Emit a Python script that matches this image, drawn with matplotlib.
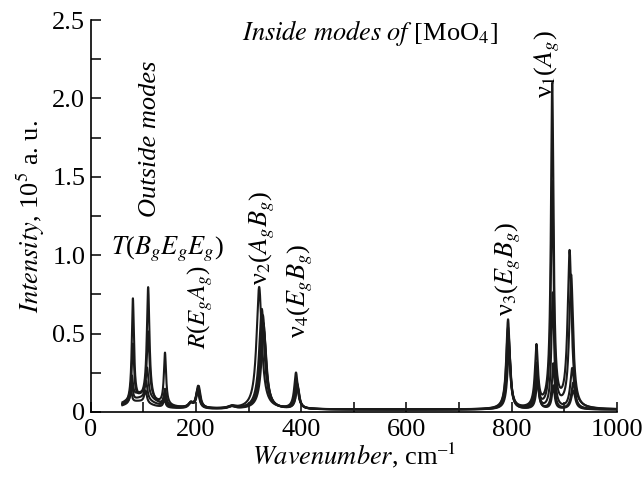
import numpy as np
import matplotlib
matplotlib.use('Agg')
import matplotlib.pyplot as plt
from matplotlib.ticker import MultipleLocator

# Raman spectra: each curve is described by the peaks
# (centre in cm-1, height in 10^5 a.u.), widths are shared half-widths

hwhm = [30, 2.5, 3.0, 2.5, 5, 4, 8, 6, 4, 4, 3.5, 3, 4.5]

center_s1 = [100, 80, 109, 141, 190, 205, 268, 320, 390, 793, 847, 877, 910]
height_s1 = [0.06, 0.66, 0.72, 0.08, 0.03, 0.14, 0.015, 0.78, 0.23, 0.57, 0.39, 2.06, 1.0]

center_s2 = [100, 80, 109, 141, 190, 204, 268, 325, 391, 793, 847, 877, 913]
height_s2 = [0.08, 0.36, 0.42, 0.33, 0.03, 0.14, 0.015, 0.64, 0.18, 0.52, 0.28, 1.44, 0.85]

center_s3 = [95, 78, 107, 141, 190, 204, 268, 327, 392, 794, 848, 878, 915]
height_s3 = [0.10, 0.14, 0.18, 0.10, 0.03, 0.13, 0.015, 0.60, 0.16, 0.47, 0.23, 0.74, 0.26]

center_s4 = [95, 78, 105, 140, 190, 203, 268, 328, 393, 794, 848, 879, 917]
height_s4 = [0.07, 0.10, 0.12, 0.06, 0.03, 0.12, 0.015, 0.55, 0.15, 0.42, 0.20, 0.29, 0.17]

center_s5 = [90, 76, 104, 140, 190, 203, 268, 329, 393, 795, 849, 879, 917]
height_s5 = [0.05, 0.08, 0.08, 0.05, 0.03, 0.11, 0.015, 0.50, 0.14, 0.38, 0.17, 0.15, 0.12]

baseline = 0.015

centers = [center_s1, center_s2, center_s3, center_s4, center_s5]
heights = [height_s1, height_s2, height_s3, height_s4, height_s5]

plt.rcParams['font.family'] = ['Liberation Serif', 'DejaVu Serif']
plt.rcParams['mathtext.fontset'] = 'stix'
fs = 19

fig = plt.figure(figsize=(6.44, 4.79), dpi=100)
ax = fig.add_axes([0.141, 0.140, 0.817, 0.818])

x = np.linspace(60, 1000, 6000)
for c, h in zip(centers, heights):
    y = np.full_like(x, baseline)
    for x0, a, g in zip(c, h, hwhm):
        y += a * g**2 / ((x - x0)**2 + g**2)
    ax.plot(x, y, color='#1a1a1a', lw=1.5)

ax.set_xlim(0, 1000)
ax.set_ylim(0, 2.5)
ax.xaxis.set_major_locator(MultipleLocator(200))
ax.xaxis.set_minor_locator(MultipleLocator(100))
ax.yaxis.set_minor_locator(MultipleLocator(0.25))
ax.set_yticks([0, 0.5, 1.0, 1.5, 2.0, 2.5])
ax.set_yticklabels(['0', '0.5', '1.0', '1.5', '2.0', '2.5'])
ax.tick_params(which='both', direction='in', length=7, width=1.1, labelsize=fs)
ax.tick_params(axis='x', pad=5)
ax.tick_params(axis='y', pad=4)
for s in ['top', 'right']:
    ax.spines[s].set_visible(False)
for s in ['left', 'bottom']:
    ax.spines[s].set_linewidth(1.2)

ax.set_xlabel('$\\mathit{Wavenumber}$, cm$^{\\mathrm{–1}}$', fontsize=fs, labelpad=0)
ax.set_ylabel('$\\mathit{Intensity}$, 10$^5$ a. u.', fontsize=fs, labelpad=4)

ax.text(531, 2.42, '$\\mathit{Inside\\ modes\\ of}$ [MoO$_4$]', ha='center', va='center', fontsize=fs)
ax.text(112, 1.74, 'Outside modes', rotation=90, ha='center', va='center',
        fontsize=fs, style='italic')
ax.text(145, 1.04, '$\\mathit{T}$($\\mathit{B_gE_gE_g}$)', ha='center', va='center', fontsize=fs)
ax.text(207, 0.40, '$\\mathit{R}$($\\mathit{E_gA_g}$)', rotation=90, ha='center', va='bottom', fontsize=18)
ax.text(326, 0.81, 'ν$_2$($\\mathit{A_gB_g}$)', rotation=90, ha='center', va='bottom', fontsize=fs)
ax.text(398, 0.47, 'ν$_4$($\\mathit{E_gB_g}$)', rotation=90, ha='center', va='bottom', fontsize=fs)
ax.text(794, 0.61, 'ν$_3$($\\mathit{E_gB_g}$)', rotation=90, ha='center', va='bottom', fontsize=fs)
ax.text(868, 2.0, 'ν$_1$($\\mathit{A_g}$)', rotation=90, ha='center', va='bottom', fontsize=fs)

fig.savefig('out.png', dpi=100)
